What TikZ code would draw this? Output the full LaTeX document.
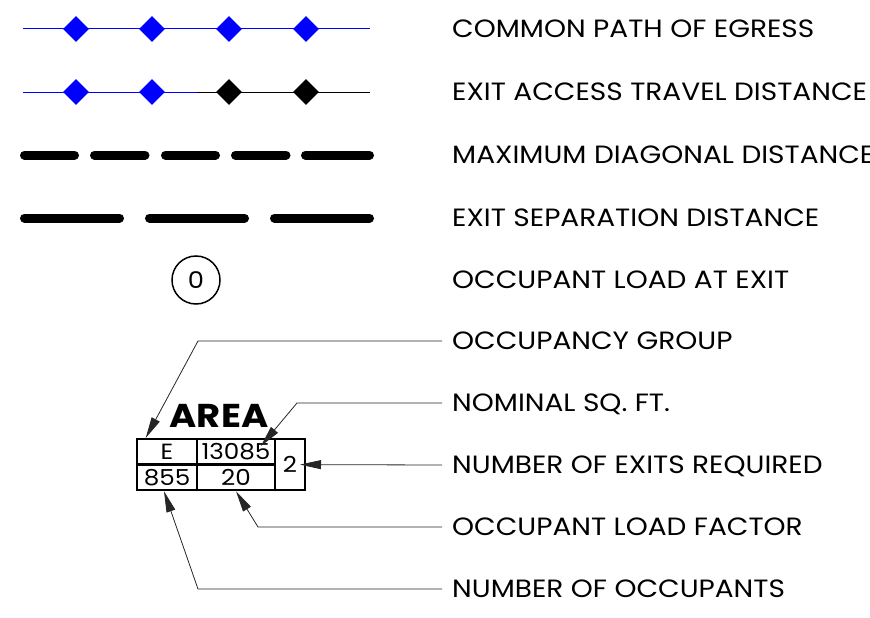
\documentclass[tikz,border=0pt]{standalone}
\usepackage{fontspec}
\setmainfont{Poppins}
\newfontfamily\widefont[FakeStretch=1.12]{Poppins}
\usetikzlibrary{arrows.meta,positioning,shapes.geometric}

\begin{document}
\begin{tikzpicture}[
x=1pt, y=-1pt,
every node/.style={font=\widefont\fontsize{23}{26}\selectfont},
legendtext/.style={anchor=west, inner sep=0pt, text height=17.5pt, text depth=0pt, font=\widefont\fontsize{25}{28}\selectfont},
marker/.style={diamond, fill=blue, inner sep=0pt, minimum width=26pt, minimum height=26pt},
heavydash/.style={line width=9pt, line cap=round},
cell/.style={draw, line width=2pt, inner sep=0pt, font=\widefont\fontsize{22}{26}\selectfont},
leader/.style={line width=0.8pt, black!85},
tip/.style={-{Triangle[length=21pt, width=9pt]}}
]
\useasboundingbox (0,0) rectangle (870,618);

% legend samples
\draw[blue, line width=1pt] (23,29) -- (370,29);
\foreach \x/\n in {76/a, 152/b, 229/c, 306/d}
  \node[marker] (common\n) at (\x,29) {};

\draw[blue, line width=1pt] (23,92) -- (197,92);
\draw[black, line width=1pt] (197,92) -- (370,92);
\node[marker] (travela) at (76,92) {};
\node[marker] (travelb) at (152,92) {};
\node[marker, fill=black] (travelc) at (229,92) {};
\node[marker, fill=black] (traveld) at (306,92) {};

\foreach \a/\b in {24.5/74.5, 94.5/145, 165.5/215.5, 235.5/286, 305.5/369.5}
  \draw[heavydash] (\a,155) -- (\b,155);
\foreach \a/\b in {24.5/119.5, 149.5/244.5, 274.5/369.5}
  \draw[heavydash] (\a,218) -- (\b,218);

\node[draw, circle, line width=1.5pt, minimum size=48pt, inner sep=0pt] (exitload) at (196,280) {0};

% labels
\node[legendtext] (lblcommon) at (452,29) {COMMON PATH OF EGRESS};
\node[legendtext] (lbltravel) at (452,92) {EXIT ACCESS TRAVEL DISTANCE};
\node[legendtext] (lbldiag) at (452,155) {MAXIMUM DIAGONAL DISTANCE};
\node[legendtext] (lblsep) at (452,218) {EXIT SEPARATION DISTANCE};
\node[legendtext] (lblload) at (452,280) {OCCUPANT LOAD AT EXIT};
\node[legendtext] (lblgroup) at (452,341) {OCCUPANCY GROUP};
\node[legendtext] (lblsqft) at (452,403) {NOMINAL SQ. FT.};
\node[legendtext] (lblexits) at (452,465) {NUMBER OF EXITS REQUIRED};
\node[legendtext] (lblfactor) at (452,527) {OCCUPANT LOAD FACTOR};
\node[legendtext] (lbloccup) at (452,589) {NUMBER OF OCCUPANTS};

% area tag
\node[font=\widefont\bfseries\fontsize{33}{36}\selectfont] (areatitle) at (219,416) {AREA};
\node[cell, minimum width=60.5pt, minimum height=25.5pt] (cellE) at (167,451.7) {E};
\node[cell, minimum width=78pt, minimum height=25.5pt] (cellsqft) at (236,451.7) {13085};
\node[cell, minimum width=60.5pt, minimum height=25.5pt] (cellocc) at (167,477.5) {855};
\node[cell, minimum width=78pt, minimum height=25.5pt] (cellfactor) at (236,477.5) {20};
\node[cell, minimum width=30pt, minimum height=51.5pt] (cellexits) at (290,464.6) {2};

% leaders
\coordinate (bendgroup) at (198,341);
\coordinate (bendsqft) at (297,403);
\coordinate (bendfactor) at (258,527);
\coordinate (bendoccup) at (198,589);
\draw[leader, tip] ([xshift=-10pt]lblgroup.west) -- (bendgroup) -- ([xshift=10pt]cellE.north west);
\draw[leader, tip] ([xshift=-10pt]lblsqft.west) -- (bendsqft) -- ([xshift=-15pt,yshift=-8pt]cellsqft.north east);
\draw[leader, tip] ([xshift=-10pt]lblexits.west) -- ([xshift=-6pt]cellexits.east);
\draw[leader, tip] ([xshift=-10pt]lblfactor.west) -- (bendfactor) -- (cellfactor.south);
\draw[leader, tip] ([xshift=-10pt]lbloccup.west) -- (bendoccup) -- ([xshift=-3pt]cellocc.south);

\end{tikzpicture}
\end{document}
